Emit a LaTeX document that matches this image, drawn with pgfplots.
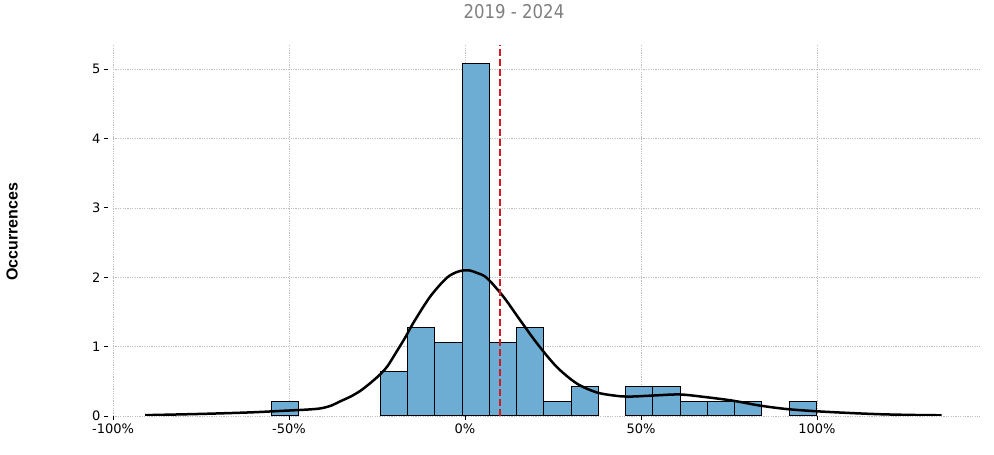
\documentclass[border=0pt]{standalone}
\usepackage{fontspec}
\setmainfont{DejaVu Sans}
\newfontfamily\labfont{Liberation Sans}
\newfontfamily\subfont[FakeStretch=0.87]{DejaVu Sans}
\usepackage{pgfplots}
\pgfplotsset{compat=1.18}
\definecolor{barblue}{RGB}{110,173,211}
\definecolor{gridgray}{RGB}{190,190,190}
\definecolor{meanred}{RGB}{210,25,30}
\begin{document}
\begin{tikzpicture}
\begin{axis}[
  at={(0pt,0pt)}, anchor=south west,
  scale only axis, width=867pt, height=371pt,
  xmin=-100, xmax=146.3, ymin=0, ymax=5.346,
  axis line style={draw=none},
  xtick={-100,-50,0,50,100},
  xticklabels={-100\%,-50\%,0\%,50\%,100\%},
  ytick={0,1,2,3,4,5},
  xtick pos=left, ytick pos=left,
  tick align=outside, major tick length=4pt,
  tick style={black, line width=0.8pt},
  ytick style={xshift=-5pt},
  yticklabel style={xshift=-5pt},
  grid=major,
  major grid style={gridgray, line width=0.45pt, dash pattern=on 1.2pt off 1.2pt},
  ticklabel style={font=\fontsize{13}{15}\selectfont},
  /pgf/number format/assume math mode=true,
]
% baseline
\addplot[gridgray, line width=0.8pt] coordinates {(-100,0) (146.3,0)};

% histogram (density), bin width 7.74
\addplot[ybar interval, fill=barblue, draw=black, line width=1pt] coordinates {
  (-55.00,0.212) (-47.26,0)};
\addplot[ybar interval, fill=barblue, draw=black, line width=1pt] coordinates {
  (-24.04,0.635) (-16.30,1.271) (-8.56,1.059) (-0.82,5.083) (6.92,1.059)
  (14.66,1.271) (22.40,0.212) (30.14,0.424) (37.88,0)};
\addplot[ybar interval, fill=barblue, draw=black, line width=1pt] coordinates {
  (45.62,0.424) (53.36,0.424) (61.10,0.212) (68.84,0.212) (76.58,0.212) (84.32,0)};
\addplot[ybar interval, fill=barblue, draw=black, line width=1pt] coordinates {
  (92.06,0.212) (99.80,0)};

% KDE
\addplot[black, line width=2.5pt, smooth] coordinates {
  (-90.9,0.012) (-75,0.030) (-61,0.052) (-51.6,0.075) (-45,0.092) (-41,0.11)
  (-38,0.15) (-35.5,0.21) (-32.5,0.28) (-29.8,0.36) (-27,0.47) (-24.1,0.60)
  (-22,0.72) (-19.4,0.93) (-17,1.13) (-14.7,1.34) (-9.9,1.72) (-5.2,1.99)
  (-2,2.08) (0.9,2.10) (3.5,2.06)
  (6.2,1.99) (10.9,1.72) (15.6,1.385) (20.4,1.05) (26.0,0.71) (31.7,0.47)
  (37.4,0.34) (43.1,0.29) (46.9,0.28) (53.5,0.295) (61.1,0.31) (68.7,0.27)
  (76.2,0.22) (83.8,0.15) (91.4,0.10) (99.9,0.068) (109.4,0.043) (118.8,0.024)
  (128.3,0.014) (135.4,0.010)};

% mean
\addplot[meanred, line width=2pt, dash pattern=on 6.5pt off 3.5pt] coordinates {(10,0) (10,5.346)};

\coordinate (O) at (axis cs:-100,0);
\end{axis}
\node[rotate=90, text=black, font=\labfont\bfseries\fontsize{16}{19}\selectfont]
  at ([shift={(-101pt,184pt)}]O) {Occurrences};
\node[text=gray, font=\subfont\fontsize{19}{22}\selectfont]
  at ([shift={(401pt,404pt)}]O) {2019 - 2024};
\pgfresetboundingbox
\path ([shift={(-113pt,-39pt)}]O) rectangle ([shift={(881pt,416pt)}]O);
\end{tikzpicture}
\end{document}
